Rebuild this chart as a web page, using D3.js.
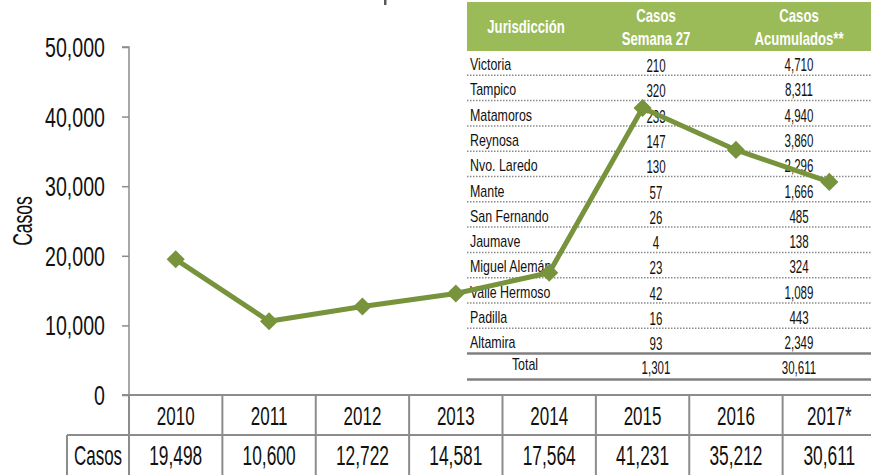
<!DOCTYPE html>
<html>
<head>
<meta charset="utf-8">
<script src="https://cdn.jsdelivr.net/npm/d3@7"></script>
<style>
  html, body { margin: 0; padding: 0; background: #fff; }
  svg { display: block; }
</style>
</head>
<body>
<svg id="chart" width="871" height="475"></svg>
<script>
// ---------- DATA ----------
const years = ["2010", "2011", "2012", "2013", "2014", "2015", "2016", "2017*"];
const casos = [19498, 10600, 12722, 14581, 17564, 41231, 35212, 30611];
const yTicks = [0, 10000, 20000, 30000, 40000, 50000];
const seriesLabel = "Casos";

const jurisdicciones = ["Victoria", "Tampico", "Matamoros", "Reynosa", "Nvo. Laredo", "Mante",
  "San Fernando", "Jaumave", "Miguel Alemán", "Valle Hermoso", "Padilla", "Altamira"];
const casosSemana27 = [210, 320, 233, 147, 130, 57, 26, 4, 23, 42, 16, 93];
const casosAcumulados = [4710, 8311, 4940, 3860, 2296, 1666, 485, 138, 324, 1089, 443, 2349];
const totalSemana27 = 1301;
const totalAcumulados = 30611;
const tableHeaders = [["Jurisdicción"], ["Casos", "Semana 27"], ["Casos", "Acumulados**"]];

// ---------- SETUP ----------
const svg = d3.select("#chart");
const FONT = "'Liberation Sans', Arial, sans-serif";
const fmt = d3.format(",");
const GREEN = "#77933C";
const AXIS = "#8c8c8c";

function label(g, x, y, s, o = {}) {
  return g.append("text")
    .attr("transform", `translate(${x},${y})${o.rotate ? ` rotate(${o.rotate})` : ""} scale(${o.sx || 0.7},1)`)
    .attr("text-anchor", o.anchor || "middle")
    .attr("font-family", FONT)
    .attr("font-size", o.size || 16)
    .attr("font-weight", o.weight || "normal")
    .attr("fill", o.fill || "#111")
    .text(s);
}

const x = d3.scaleBand().domain(years).range([129, 876]);
const y = d3.scaleLinear().domain([0, 50000]).range([395, 47]);

// visible stub of the cut-off title above the chart
svg.append("rect").attr("x", 384).attr("y", 0).attr("width", 2.5).attr("height", 5).attr("fill", "#595959");

// ---------- Y AXIS ----------
const yAxis = d3.axisLeft(y).tickValues(yTicks).tickSize(7).tickFormat("");
const yg = svg.append("g").attr("transform", "translate(129,0)").call(yAxis);
yg.selectAll("path, line").attr("stroke", AXIS).attr("stroke-width", 1.5);
yg.select(".domain").attr("d", `M-7,${y(50000)}H0V${y(0)}`);
yTicks.forEach(v => label(svg, 105, y(v) + 10, fmt(v), { size: 28, anchor: "end", sx: 0.7 }));
label(svg, 32, 221, seriesLabel, { size: 27, rotate: -90, sx: 0.65 });

// ---------- BOTTOM DATA TABLE ----------
const tb = svg.append("g");
const rowMid = 435;
tb.append("line").attr("x1", 122).attr("x2", 876).attr("y1", y(0)).attr("y2", y(0));
tb.append("line").attr("x1", 67).attr("x2", 876).attr("y1", rowMid).attr("y2", rowMid);
tb.append("line").attr("x1", 67).attr("x2", 67).attr("y1", rowMid).attr("y2", 480);
const edges = years.map(d => x(d)).concat([x.range()[1]]);
tb.selectAll("line.sep").data(edges).enter().append("line").attr("class", "sep")
  .attr("x1", d => d).attr("x2", d => d).attr("y1", y(0)).attr("y2", 480);
tb.selectAll("line").attr("stroke", AXIS).attr("stroke-width", 2);

years.forEach((yr, i) => {
  const cx = x(yr) + x.bandwidth() / 2;
  label(svg, cx, 425, yr, { size: 25, sx: 0.68 });
  label(svg, cx, 465, fmt(casos[i]), { size: 28, sx: 0.62 });
});
label(svg, 98, 465, seriesLabel, { size: 27, sx: 0.63 });

// ---------- JURISDICTION TABLE ----------
const T = svg.append("g");
const tx0 = 467, tx1 = 871;
const colX = [470, 656, 799];
T.append("rect").attr("x", tx0).attr("y", 0).attr("width", tx1 - tx0).attr("height", 388).attr("fill", "#fff");
T.append("rect").attr("x", tx0).attr("y", 2).attr("width", tx1 - tx0).attr("height", 49).attr("fill", "#9BBB59");
label(T, 526, 33, tableHeaders[0][0], { size: 18, weight: "bold", fill: "#fff", sx: 0.73 });
[1, 2].forEach(c => {
  label(T, colX[c], 22, tableHeaders[c][0], { size: 18, weight: "bold", fill: "#fff", sx: 0.73 });
  label(T, colX[c], 45, tableHeaders[c][1], { size: 18, weight: "bold", fill: "#fff", sx: 0.73 });
});

const rowY = d3.scaleLinear().domain([0, 1]).range([50, 75.3]); // row top edges
jurisdicciones.forEach((j, i) => {
  const top = rowY(i);
  label(T, colX[0], top + 20, j, { size: 17, anchor: "start", sx: 0.73 });
  label(T, colX[1], top + 22, casosSemana27[i], { size: 18, sx: 0.64 });
  label(T, colX[2], top + 21, fmt(casosAcumulados[i]), { size: 18, sx: 0.64 });
  if (i < jurisdicciones.length - 1) {
    T.append("line").attr("x1", tx0).attr("x2", tx1).attr("y1", rowY(i + 1)).attr("y2", rowY(i + 1))
      .attr("stroke", "#8a8a8a").attr("stroke-width", 1.5).attr("stroke-dasharray", "1.5,1.5");
  }
});
const totTop = rowY(jurisdicciones.length);
[totTop, totTop + 26].forEach(yy => {
  T.append("line").attr("x1", tx0).attr("x2", tx1).attr("y1", yy).attr("y2", yy)
    .attr("stroke", "#808080").attr("stroke-width", 2.5);
});
label(T, 525, totTop + 16, "Total", { size: 17, sx: 0.73 });
label(T, colX[1], totTop + 20, fmt(totalSemana27), { size: 18, sx: 0.64 });
label(T, colX[2], totTop + 20, fmt(totalAcumulados), { size: 18, sx: 0.64 });

// ---------- LINE SERIES ----------
const line = d3.line().x((d, i) => x(years[i]) + x.bandwidth() / 2).y(d => y(d));
svg.append("path").datum(casos).attr("d", line)
  .attr("fill", "none").attr("stroke", GREEN).attr("stroke-width", 5).attr("stroke-linejoin", "round");
svg.selectAll("path.mk").data(casos).enter().append("path").attr("class", "mk")
  .attr("d", d3.symbol().type(d3.symbolDiamond2).size(210))
  .attr("transform", (d, i) => `translate(${x(years[i]) + x.bandwidth() / 2},${y(d)})`)
  .attr("fill", GREEN);
</script>
</body>
</html>
